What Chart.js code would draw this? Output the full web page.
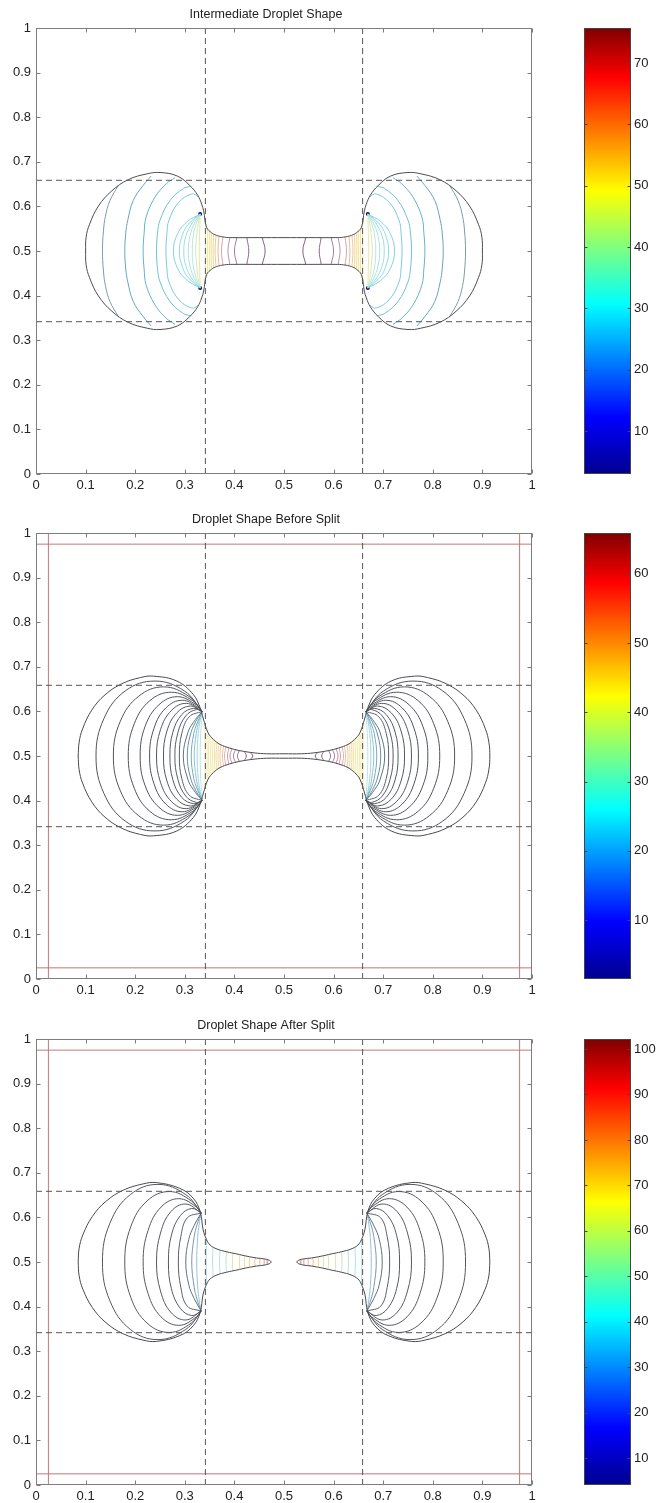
<!DOCTYPE html>
<html><head><meta charset="utf-8">
<script src="https://cdn.jsdelivr.net/npm/chart.js@4.4.1/dist/chart.umd.min.js"></script>
<style>
html,body{margin:0;padding:0;background:#fff;}
#wrap{position:relative;width:662px;height:1503px;overflow:hidden;background:#fff;}
canvas{position:absolute;}
</style></head><body><div id="wrap">
<canvas id="c1" width="570" height="501" style="left:0;top:0"></canvas>
<canvas id="cb1" width="102" height="501" style="left:560px;top:0"></canvas>
<canvas id="c2" width="570" height="501" style="left:0;top:505px"></canvas>
<canvas id="cb2" width="102" height="501" style="left:560px;top:505px"></canvas>
<canvas id="c3" width="570" height="501" style="left:0;top:1011px"></canvas>
<canvas id="cb3" width="102" height="501" style="left:560px;top:1011px"></canvas>
</div>
<script>
// ---------- axis ticks ----------
const xTicks = [0,0.1,0.2,0.3,0.4,0.5,0.6,0.7,0.8,0.9,1];
const yTicks = [0,0.1,0.2,0.3,0.4,0.5,0.6,0.7,0.8,0.9,1];
const titles = ["Intermediate Droplet Shape","Droplet Shape Before Split","Droplet Shape After Split"];
// colour bars
const cbRange1 = [3.0, 75.7];  const cbTicks1 = [10,20,30,40,50,60,70];
const cbRange2 = [1.5, 65.9];  const cbTicks2 = [10,20,30,40,50,60];
const cbRange3 = [4.1, 102.2]; const cbTicks3 = [10,20,30,40,50,60,70,80,90,100];
// guide lines
const guideX = [0.3415, 0.6585];
const guideY = [0.3415, 0.6585];
const boxLines = [0.025, 0.975];

// ---------- panel 1: intermediate ----------
const p1Outline = [[0.100,0.500],[0.101,0.531],[0.108,0.560],[0.126,0.601],[0.153,0.635],[0.186,0.660],[0.224,0.673],[0.250,0.676],[0.285,0.668],[0.310,0.647],[0.326,0.625],[0.334,0.605],[0.338,0.590],[0.344,0.553],[0.354,0.541],[0.364,0.535],[0.380,0.531],[0.397,0.530],[0.450,0.530],[0.500,0.530]];
const p1Arcs = [
 [[0.134,0.5],[0.136,0.545],[0.140,0.578],[0.149,0.613],[0.166,0.647]],
 [[0.179,0.5],[0.181,0.540],[0.185,0.569],[0.196,0.613],[0.216,0.647],[0.232,0.668]],
 [[0.216,0.5],[0.218,0.540],[0.222,0.576],[0.240,0.621],[0.263,0.651],[0.280,0.664]],
 [[0.243,0.5],[0.245,0.540],[0.250,0.569],[0.270,0.613],[0.297,0.640],[0.312,0.645]],
 [[0.262,0.5],[0.264,0.540],[0.268,0.569],[0.287,0.608],[0.314,0.628],[0.327,0.622]],
 [[0.277,0.5],[0.286,0.540],[0.305,0.566],[0.331,0.583]],
 [[0.289,0.5],[0.2955,0.537],[0.308,0.561],[0.331,0.583]],
 [[0.298,0.5],[0.302,0.533],[0.315,0.563],[0.331,0.583]],
 [[0.307,0.5],[0.3105,0.534],[0.319,0.561],[0.331,0.583]],
 [[0.315,0.5],[0.317,0.533],[0.323,0.561],[0.331,0.583]],
 [[0.322,0.5],[0.324,0.533],[0.327,0.561],[0.331,0.583]],
 [[0.329,0.5],[0.330,0.540],[0.331,0.583]]
];
const p1ArcColors = ['#7b9da6','#66a5b6','#64b2c9','#6fbfd9','#7cc9df','#86d1e4','#8fd8e6','#9bdde6','#a9e2e2','#bbe6d6','#d2e8bc','#e6e6a0'];
const p1NeckX    = [0.342,0.346,0.350,0.354,0.358,0.363,0.369,0.377,0.391,0.405,0.425,0.456];
const p1NeckTop  = [0.572,0.553,0.546,0.541,0.538,0.535,0.533,0.532,0.531,0.530,0.530,0.530];
const p1NeckBend = [0,0,0,-0.001,-0.001,-0.002,-0.002,-0.003,-0.004,-0.005,0.004,0.006];
const p1NeckColors = ['#eee9a0','#f0e89a','#f2e494','#f3dd90','#f2d48e','#efc890','#e8b898','#d8a4a8','#c090a8','#a47c98','#8c6c84','#7a6478'];
const p1Dots = [[0.331,0.583],[0.331,0.417],[0.669,0.583],[0.669,0.417]];

// ---------- panel 2: before split ----------
const p2Outline = [[0.085,0.5],[0.087,0.531],[0.094,0.561],[0.1125,0.603],[0.139,0.637],[0.173,0.662],[0.211,0.676],[0.237,0.679],[0.284,0.668],[0.317,0.638],[0.331,0.608],[0.337,0.585],[0.347,0.552],[0.358,0.537],[0.371,0.526],[0.390,0.518],[0.411,0.512],[0.440,0.507],[0.465,0.505],[0.5,0.505]];
const p2Arcs = [
 [[0.121,0.5],[0.137,0.584],[0.180,0.646],[0.240,0.668],[0.299,0.646],[0.335,0.600]],
 [[0.156,0.5],[0.170,0.578],[0.207,0.634],[0.2575,0.655],[0.308,0.634],[0.335,0.600]],
 [[0.186,0.5],[0.198,0.572],[0.2295,0.624],[0.273,0.643],[0.316,0.624],[0.335,0.600]],
 [[0.210,0.5],[0.220,0.5665],[0.248,0.615],[0.285,0.633],[0.323,0.615],[0.335,0.600]],
 [[0.229,0.5],[0.238,0.5625],[0.262,0.608],[0.295,0.625],[0.328,0.608],[0.335,0.600]],
 [[0.243,0.5],[0.251,0.559],[0.273,0.602],[0.303,0.618],[0.335,0.600]],
 [[0.257,0.5],[0.264,0.556],[0.284,0.597],[0.311,0.612],[0.335,0.600]],
 [[0.270,0.5],[0.276,0.5535],[0.294,0.593],[0.318,0.607],[0.335,0.600]],
 [[0.280,0.5],[0.286,0.552],[0.302,0.590],[0.323,0.604],[0.335,0.600]],
 [[0.289,0.5],[0.294,0.551],[0.309,0.588],[0.335,0.600]],
 [[0.297,0.5],[0.306,0.552],[0.317,0.575],[0.335,0.600]],
 [[0.305,0.5],[0.311,0.547],[0.322,0.577],[0.335,0.600]],
 [[0.313,0.5],[0.318,0.550],[0.325,0.574],[0.335,0.600]],
 [[0.319,0.5],[0.323,0.550],[0.3285,0.578],[0.335,0.600]],
 [[0.325,0.5],[0.327,0.550],[0.331,0.580],[0.335,0.600]],
 [[0.331,0.5],[0.332,0.550],[0.334,0.580],[0.335,0.600]]
];
const p2ArcColors = ['#50545c','#50545c','#50545c','#50545c','#50545c','#52565e','#535860','#555a62','#565c66','#56606c','#5e7484','#6a8ca0','#7aa8bc','#8cc4d4','#9ed8e0','#b8e6e0'];
const p2NeckX    = [0.341,0.345,0.349,0.353,0.357,0.361,0.365,0.369,0.373,0.378,0.383,0.389,0.395,0.402,0.410,0.420,0.432];
const p2NeckTop  = [0.572,0.558,0.549,0.543,0.538,0.534,0.531,0.528,0.525,0.523,0.521,0.518,0.516,0.514,0.512,0.510,0.508];
const p2NeckBend = [0,0,-0.001,-0.001,-0.001,-0.001,-0.002,-0.002,-0.002,-0.002,-0.003,-0.003,-0.004,-0.004,-0.004,0.004,0.005];
const p2NeckColors = ['#efe9a8','#efe9a8','#f0e8a4','#f0e8a0','#f0e6a0','#f0e29e','#f0dc9c','#f0d69c','#eecca0','#ecc0a4','#e4b0ac','#d49cac','#c08ca8','#a87c9c','#907088','#806478','#74606c'];

// ---------- panel 3: after split ----------
const p3Half = [[0.085,0.5],[0.087,0.531],[0.0945,0.561],[0.1136,0.602],[0.141,0.636],[0.176,0.661],[0.2156,0.675],[0.243,0.678],[0.290,0.665],[0.317,0.643],[0.331,0.613],[0.337,0.572],[0.344,0.550],[0.351,0.538],[0.365,0.529],[0.384,0.523],[0.405,0.518],[0.425,0.513],[0.445,0.509],[0.460,0.507],[0.470,0.504],[0.474,0.500]];
const p3Arcs = [
 [[0.134,0.5],[0.149,0.587],[0.190,0.651],[0.246,0.674],[0.302,0.651],[0.333,0.610]],
 [[0.179,0.5],[0.191,0.579],[0.224,0.637],[0.269,0.658],[0.313,0.637],[0.333,0.610]],
 [[0.216,0.5],[0.226,0.571],[0.252,0.623],[0.288,0.642],[0.324,0.623],[0.333,0.610]],
 [[0.243,0.5],[0.251,0.565],[0.272,0.613],[0.302,0.630],[0.333,0.610]],
 [[0.267,0.5],[0.273,0.560],[0.291,0.604],[0.314,0.620],[0.333,0.610]],
 [[0.287,0.5],[0.292,0.557],[0.305,0.599],[0.333,0.610]],
 [[0.302,0.5],[0.308,0.551],[0.319,0.582],[0.333,0.610]],
 [[0.314,0.5],[0.319,0.557],[0.325,0.585],[0.333,0.610]],
 [[0.324,0.5],[0.326,0.555],[0.329,0.585],[0.333,0.610]]
];
const p3ArcColors = ['#55585e','#55585e','#55585e','#55585e','#565a62','#585e68','#607080','#7898b0','#98c0d8'];
const p3ConeX    = [0.344,0.357,0.371,0.384,0.397,0.411,0.421,0.431,0.442,0.452,0.460,0.466];
const p3ConeTop  = [0.550,0.533,0.527,0.523,0.520,0.516,0.514,0.5115,0.509,0.5075,0.506,0.505];
const p3ConeBend = [-0.001,-0.001,-0.001,-0.001,-0.001,-0.001,-0.001,-0.001,-0.001,-0.001,0,0];
const p3ConeColors = ['#b0dcea','#b4e0e4','#bce2d8','#c8e4c4','#d6e6b0','#e2e4a0','#ece09a','#f0d494','#f0c490','#eab090','#e09888','#cc7c78'];

// ---------- helpers ----------
const FONT = '"Liberation Sans", Arial, Helvetica, sans-serif';
const P = a => a.map(([x,y]) => ({x, y}));
const flipX = a => a.map(([x,y]) => [1-x, y]);
function arcFull(h){ return h.slice().reverse().map(([x,y])=>[x,1-y]).concat(h.slice(1)); }
function loopFromQuarter(q){
  const top = q.concat(q.slice(0,-1).reverse().map(([x,y])=>[1-x,y]));
  return top.concat(top.slice(0,-1).reverse().map(([x,y])=>[x,1-y]));
}
function loopFromHalf(h){ return h.concat(h.slice(0,-1).reverse().map(([x,y])=>[x,1-y])); }
function vline(x,t,b){ return [[x,1-t],[x+b,0.5],[x,t]]; }
function ds(pts, color, extra){
  return Object.assign({data:P(pts), showLine:true, pointRadius:0, borderColor:color, borderWidth:1, tension:0.4, fill:false}, extra||{});
}
function guideSets(withBox){
  const out = [];
  guideX.forEach(v => out.push(ds([[v,0],[v,1]], '#555', {tension:0, borderDash:[6,4]})));
  guideY.forEach(v => out.push(ds([[0,v],[1,v]], '#555', {tension:0, borderDash:[6,4]})));
  if (withBox) {
    boxLines.forEach(v => out.push(ds([[v,0],[v,1]], '#c07878', {tension:0})));
    boxLines.forEach(v => out.push(ds([[0,v],[1,v]], '#c07878', {tension:0})));
  }
  return out;
}
function arcSets(arcs, colors){
  const out = [];
  arcs.forEach((h,i) => { const f = arcFull(h); out.push(ds(f, colors[i])); out.push(ds(flipX(f), colors[i])); });
  return out;
}
function neckSets(xs, tops, bends, colors){
  const out = [];
  xs.forEach((x,i) => { const l = vline(x, tops[i], bends[i]); out.push(ds(l, colors[i])); out.push(ds(flipX(l), colors[i])); });
  return out;
}

const framePlugin = {
  id:'frame',
  afterDatasetsDraw(chart){
    const {ctx, chartArea:a, scales:{x, y}} = chart;
    ctx.save();
    ctx.strokeStyle = '#7d7d7d'; ctx.lineWidth = 1;
    const L = Math.round(a.left)+0.5, R = Math.round(a.right)-0.5, T = Math.round(a.top)+0.5, B = Math.round(a.bottom)-0.5;
    ctx.strokeRect(L, T, R-L, B-T);
    ctx.beginPath();
    xTicks.forEach(v => { const px = Math.round(x.getPixelForValue(v))+0.5; ctx.moveTo(px,B); ctx.lineTo(px,B-4); ctx.moveTo(px,T); ctx.lineTo(px,T+4); });
    yTicks.forEach(v => { const py = Math.round(y.getPixelForValue(v))+0.5; ctx.moveTo(L,py); ctx.lineTo(L+4,py); ctx.moveTo(R,py); ctx.lineTo(R-4,py); });
    ctx.stroke();
    ctx.restore();
  }
};

function panelChart(id, title, datasets){
  return new Chart(document.getElementById(id), {
    type:'scatter',
    data:{datasets},
    options:{
      responsive:false, animation:false, events:[],
      layout:{padding:{left:0, right:38, top:0, bottom:0}},
      plugins:{
        legend:{display:false}, tooltip:{enabled:false},
        title:{display:true, text:title, color:'#222', font:{family:FONT, size:12.5, weight:'normal'}, padding:{top:6.7, bottom:6.3}}
      },
      scales:{
        x:{type:'linear', min:0, max:1,
           afterBuildTicks:s=>{ s.ticks = xTicks.map(v=>({value:v})); },
           afterFit:s=>{ s.height = 27; },
           grid:{display:false, drawTicks:false}, border:{display:false},
           ticks:{padding:4, color:'#222', font:{family:FONT, size:13}, maxRotation:0, autoSkip:false, callback:v=>String(v)}},
        y:{type:'linear', min:0, max:1,
           afterBuildTicks:s=>{ s.ticks = yTicks.map(v=>({value:v})); },
           afterFit:s=>{ s.width = 36; },
           grid:{display:false, drawTicks:false}, border:{display:false},
           ticks:{padding:5, color:'#222', font:{family:FONT, size:13}, autoSkip:false, callback:v=>String(v)}}
      }
    },
    plugins:[framePlugin]
  });
}

function jetGradient(chart, lo, hi){
  const a = chart.chartArea; if (!a) return '#00f';
  const y = chart.scales.y;
  const g = chart.ctx.createLinearGradient(0, y.getPixelForValue(lo), 0, y.getPixelForValue(hi));
  g.addColorStop(0, 'rgb(0,0,143)');
  g.addColorStop(0.127, 'rgb(0,0,255)');
  g.addColorStop(0.381, 'rgb(0,255,255)');
  g.addColorStop(0.635, 'rgb(255,255,0)');
  g.addColorStop(0.889, 'rgb(255,0,0)');
  g.addColorStop(1, 'rgb(128,0,0)');
  return g;
}
function colorbar(id, range, ticks){
  const [lo, hi] = range;
  const cbFrame = {
    id:'cbframe',
    afterDatasetsDraw(chart){
      const {ctx, chartArea:a, scales:{y}} = chart;
      ctx.save(); ctx.strokeStyle = '#444'; ctx.lineWidth = 1;
      const L = Math.round(a.left)+0.5, R = Math.round(a.right)-0.5, T = Math.round(a.top)+0.5, B = Math.round(a.bottom)-0.5;
      ctx.strokeRect(L, T, R-L, B-T);
      ctx.beginPath();
      ticks.forEach(v => { const py = Math.round(y.getPixelForValue(v))+0.5; ctx.moveTo(L,py); ctx.lineTo(L+3,py); ctx.moveTo(R,py); ctx.lineTo(R-3,py); });
      ctx.stroke(); ctx.restore();
    }
  };
  return new Chart(document.getElementById(id), {
    type:'bar',
    data:{labels:['c'], datasets:[{data:[[lo,hi]], backgroundColor:c=>jetGradient(c.chart, lo, hi), borderWidth:0, barPercentage:1, categoryPercentage:1}]},
    options:{
      responsive:false, animation:false, events:[],
      layout:{padding:{left:24, right:0, top:28, bottom:27}},
      plugins:{legend:{display:false}, tooltip:{enabled:false}, title:{display:false}},
      scales:{
        x:{display:false},
        y:{position:'right', min:lo, max:hi,
           afterBuildTicks:s=>{ s.ticks = ticks.map(v=>({value:v})); },
           afterFit:s=>{ s.width = 31; },
           grid:{display:false, drawTicks:false}, border:{display:false},
           ticks:{padding:3, color:'#222', font:{family:FONT, size:13}, callback:v=>String(v)}}
      }
    },
    plugins:[cbFrame]
  });
}

// ---------- build panels ----------
const d1 = [].concat(
  guideSets(false),
  [ds(loopFromQuarter(p1Outline), '#4d4d52')],
  arcSets(p1Arcs, p1ArcColors),
  neckSets(p1NeckX, p1NeckTop, p1NeckBend, p1NeckColors),
  [{data:P(p1Dots), showLine:false, pointRadius:2, pointBorderWidth:0, backgroundColor:'#0a1a60'}]
);
const d2 = [].concat(
  guideSets(true),
  [ds(loopFromQuarter(p2Outline), '#4a4a50')],
  arcSets(p2Arcs, p2ArcColors),
  neckSets(p2NeckX, p2NeckTop, p2NeckBend, p2NeckColors)
);
const l3 = loopFromHalf(p3Half);
const d3 = [].concat(
  guideSets(true),
  [ds(l3, '#4a4a50'), ds(flipX(l3), '#4a4a50')],
  arcSets(p3Arcs, p3ArcColors),
  neckSets(p3ConeX, p3ConeTop, p3ConeBend, p3ConeColors)
);
panelChart('c1', titles[0], d1);
panelChart('c2', titles[1], d2);
panelChart('c3', titles[2], d3);
colorbar('cb1', cbRange1, cbTicks1);
colorbar('cb2', cbRange2, cbTicks2);
colorbar('cb3', cbRange3, cbTicks3);
</script></body></html>
